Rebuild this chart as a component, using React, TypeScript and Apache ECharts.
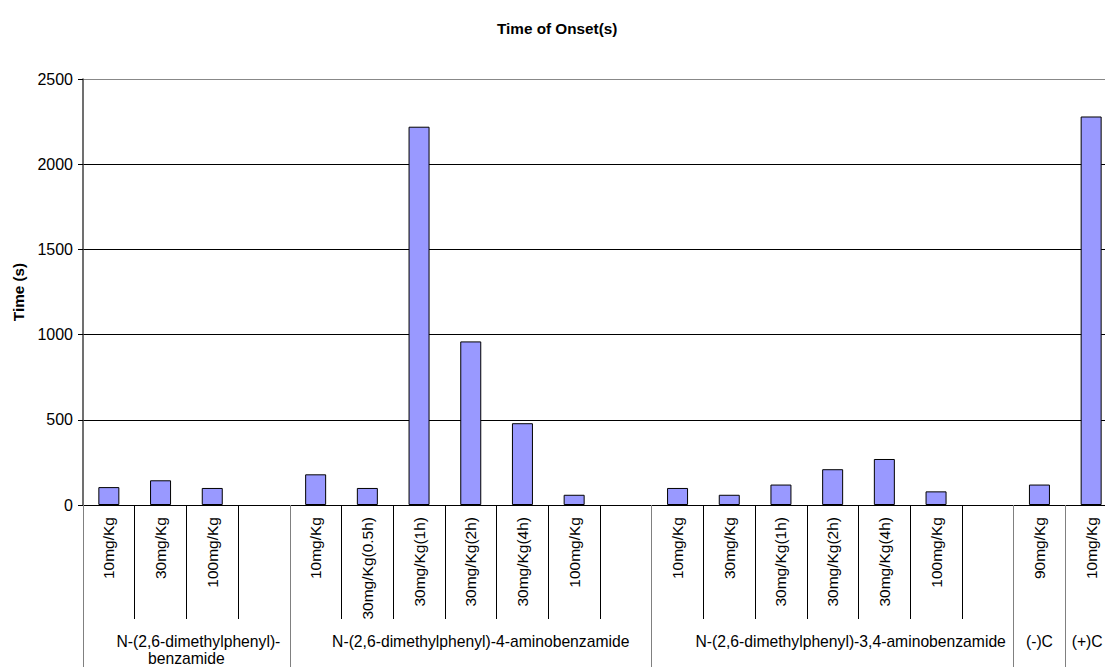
import React, { useEffect, useRef } from "react";
import * as echarts from "echarts";

const chartTitle = "Time of Onset(s)";
const yAxisName = "Time (s)";
const categories = [
  "10mg/Kg", "30mg/Kg", "100mg/Kg", "",
  "10mg/Kg", "30mg/Kg(0.5h)", "30mg/Kg(1h)", "30mg/Kg(2h)", "30mg/Kg(4h)", "100mg/Kg", "",
  "10mg/Kg", "30mg/Kg", "30mg/Kg(1h)", "30mg/Kg(2h)", "30mg/Kg(4h)", "100mg/Kg", "",
  "90mg/Kg",
  "10mg/Kg",
];
const onsetTimes: (number | null)[] = [
  105, 145, 100, null,
  180, 100, 2220, 960, 480, 60, null,
  100, 60, 120, 210, 270, 80, null,
  120,
  2280,
];
const groupNames = [
  "N-(2,6-dimethylphenyl)-\nbenzamide",
  "N-(2,6-dimethylphenyl)-4-aminobenzamide",
  "N-(2,6-dimethylphenyl)-3,4-aminobenzamide",
  "(-)C",
  "(+)C",
];
const groupSizes = [4, 7, 7, 1, 1];
const yMin = 0;
const yMax = 2500;
const yInterval = 500;

// layout-only: horizontal nudges of group labels (px)
const groupShift = [12, 10, 18, 0, -4];

const FONT = "Liberation Sans, Arial, sans-serif";
const GROUP_FS = 15.7;

export default function App() {
  const ref = useRef<HTMLDivElement>(null);
  useEffect(() => {
    if (!ref.current) return;
    const chart = echarts.init(ref.current, undefined, { renderer: "svg" });

    const boundaries: number[] = [0];
    const centers: number[] = [];
    let acc = 0;
    groupSizes.forEach((s) => {
      centers.push(acc * 2 + s);
      acc += s;
      boundaries.push(acc * 2);
    });
    const nHalf = acc * 2 + 1;
    const halfData = Array.from({ length: nHalf }, (_, i) => String(i));
    const boundarySet = new Set(boundaries);
    const centerMap = new Map<number, number>();
    centers.forEach((c, gi) => centerMap.set(c, gi));

    const rich: Record<string, any> = {
      p: { fontSize: GROUP_FS, fontFamily: FONT, color: "#000", lineHeight: 17 },
    };
    groupShift.forEach((s, gi) => {
      rich["s" + gi] = {
        fontSize: GROUP_FS,
        fontFamily: FONT,
        color: "#000",
        lineHeight: 17,
        padding: s >= 0 ? [0, 0, 0, 2 * s] : [0, -2 * s, 0, 0],
      };
    });

    chart.setOption({
      animation: false,
      title: {
        text: chartTitle,
        left: 492,
        top: 16,
        textStyle: { fontSize: 15.3, fontWeight: "bold", fontFamily: FONT, color: "#000" },
      },
      grid: {
        left: 83,
        right: 3,
        top: 79,
        bottom: 162,
        outerBoundsMode: "none",
        containLabel: false,
      },
      xAxis: [
        {
          type: "category",
          data: categories,
          position: "bottom",
          axisLine: { show: true, lineStyle: { color: "#000", width: 1 } },
          axisTick: {
            show: true,
            alignWithLabel: false,
            interval: 0,
            length: 114,
            lineStyle: { color: "#000", width: 1 },
          },
          axisLabel: {
            interval: 0,
            rotate: 90,
            margin: 12,
            fontSize: 15.5,
            fontFamily: FONT,
            color: "#000",
          },
          splitLine: { show: false },
        },
        {
          type: "category",
          data: halfData,
          position: "bottom",
          offset: 0,
          boundaryGap: false,
          axisLine: { show: false },
          axisTick: {
            show: true,
            interval: (i: number) => boundarySet.has(i),
            length: 175,
            lineStyle: { color: "#808080", width: 1 },
          },
          axisLabel: {
            interval: (i: number) => centerMap.has(i),
            margin: 128,
            fontSize: GROUP_FS,
            lineHeight: 17,
            fontFamily: FONT,
            color: "#000",
            formatter: (_v: string, i: number) => {
              const gi = centerMap.get(i);
              if (gi === undefined) return "";
              const lines = groupNames[gi].split("\n");
              return lines
                .map((l, li) => (li === 0 ? `{s${gi}|${l}}` : `{p|${l}}`))
                .join("\n");
            },
            rich,
          },
          splitLine: { show: false },
        },
      ],
      yAxis: {
        type: "value",
        min: yMin,
        max: yMax,
        interval: yInterval,
        name: yAxisName,
        nameLocation: "middle",
        nameRotate: 90,
        nameGap: 57,
        nameTextStyle: { fontSize: 15.3, fontWeight: "bold", fontFamily: FONT, color: "#000" },
        axisLine: { show: true, lineStyle: { color: "#404040", width: 1.5 } },
        axisTick: { show: true, length: 5, lineStyle: { color: "#000" } },
        axisLabel: {
          fontSize: 16,
          fontFamily: FONT,
          color: "#000",
          margin: 10,
          formatter: (v: number) => String(v),
        },
        splitLine: {
          show: true,
          lineStyle: { color: ["#000", "#000", "#000", "#000", "#000", "#888"], width: 1 },
        },
      },
      series: [
        {
          type: "bar",
          xAxisIndex: 0,
          data: onsetTimes,
          barWidth: 21,
          itemStyle: { color: "#9999FF", borderColor: "#000", borderWidth: 1 },
        },
      ],
    });
    return () => chart.dispose();
  }, []);

  return (
    <div
      style={{
        position: "absolute",
        left: 0,
        top: 0,
        width: 1105,
        height: 667,
        overflow: "hidden",
        background: "#fff",
      }}
    >
      <div ref={ref} style={{ width: 1120, height: 667 }} />
    </div>
  );
}
